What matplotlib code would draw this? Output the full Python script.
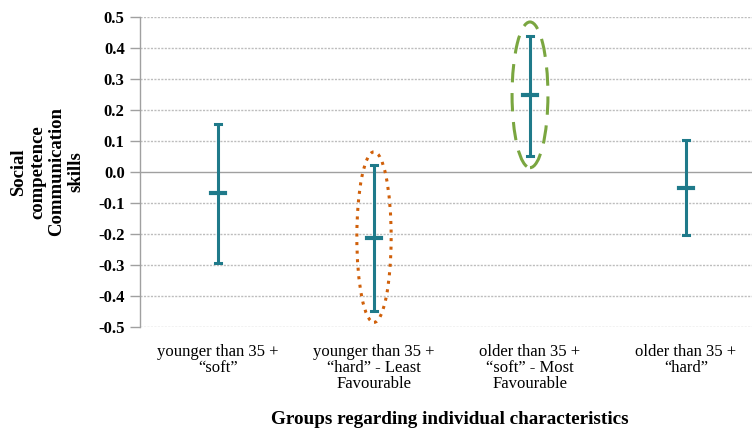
import matplotlib
matplotlib.use("Agg")
import matplotlib.pyplot as plt
from matplotlib.patches import Ellipse

# Data
groups = [
    "younger than 35 +\n\u201csoft\u201d",
    "younger than 35 +\n\u201chard\u201d - Least\nFavourable",
    "older than 35 +\n\u201csoft\u201d - Most\nFavourable",
    "older than 35 +\n\u201chard\u201d",
]
means = [-0.068, -0.212, 0.248, -0.052]
upper = [0.155, 0.022, 0.440, 0.102]
lower = [-0.295, -0.447, 0.052, -0.203]
yticks = [0.5, 0.4, 0.3, 0.2, 0.1, 0.0, -0.1, -0.2, -0.3, -0.4, -0.5]

teal = "#1F7A8A"
plt.rcParams["font.family"] = ["Liberation Serif", "DejaVu Serif"]

fig = plt.figure(figsize=(7.52, 4.30), dpi=100)
ax = fig.add_axes([140 / 752, 1 - 327 / 430, 624 / 752, 310 / 430])

x = list(range(len(groups)))
for i in x:
    ax.plot([i, i], [lower[i], upper[i]], color=teal, lw=2.2, zorder=3,
            solid_capstyle="butt")
    ax.plot([i - 0.022, i + 0.022], [upper[i], upper[i]], color=teal, lw=2.2, zorder=3)
    ax.plot([i - 0.022, i + 0.022], [lower[i], lower[i]], color=teal, lw=2.2, zorder=3)
    ax.plot([i - 0.045, i + 0.045], [means[i], means[i]], color=teal, lw=3, zorder=3)

# highlight ellipses
ax.add_patch(Ellipse((1, -0.21), 0.22, 0.55, fill=False, edgecolor="#D0600A",
                     linestyle=(0, (1, 1.8)), lw=2.2, zorder=4))
ax.add_patch(Ellipse((2, 0.249), 0.23, 0.47, fill=False, edgecolor="#7AA640",
                     linestyle=(0, (6, 3.5)), lw=2.2, zorder=4))

ax.set_xlim(-0.5, 3.5)
ax.set_ylim(-0.5, 0.5)
ax.set_yticks(yticks)
ax.set_yticklabels([f"{v:.1f}" for v in yticks], fontweight="bold", fontsize=12)
for v in yticks:
    if v == 0:
        ax.axhline(v, color="#A0A0A0", lw=1.0, zorder=1)
    else:
        ax.axhline(v, color="#BDBDBD", lw=1.0, linestyle=(0, (1.5, 1)), zorder=1)

ax.set_xticks(x)
ax.set_xticklabels(groups, fontsize=12, linespacing=1.0)
ax.tick_params(axis="x", length=0, pad=12)
ax.tick_params(axis="y", length=7, width=1, color="#A0A0A0", pad=4, direction="out")

for s in ["top", "right", "bottom"]:
    ax.spines[s].set_visible(False)
ax.spines["left"].set_color("#A0A0A0")
ax.spines["left"].set_linewidth(1.0)

fig.text(47 / 752, 1 - 172 / 430, "Social\ncompetence\nCommunication\nskills",
         rotation=90, ha="center", va="center", fontsize=13.5, fontweight="bold",
         linespacing=1.15)
fig.text(450 / 752, 1 - 419 / 430, "Groups regarding individual characteristics",
         ha="center", va="center", fontsize=13.8, fontweight="bold")

fig.savefig("out.png", dpi=100, facecolor="white")
